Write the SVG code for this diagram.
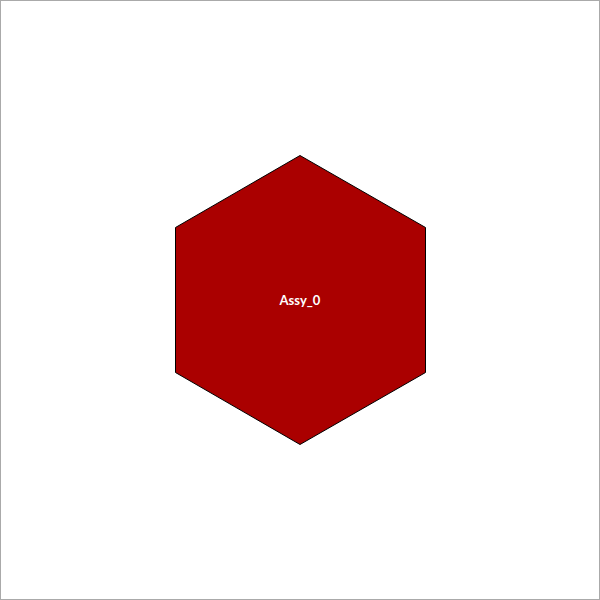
<svg xmlns="http://www.w3.org/2000/svg" width="600" height="600" viewBox="0 0 600 600">
<style>
.node{fill:#aa0000;stroke:#000;stroke-width:1}
.lbl{fill:#fff;font-family:Lato,"Liberation Sans",sans-serif;font-weight:bold;font-size:13px;text-anchor:middle}
</style>
<rect x="0.5" y="0.5" width="599" height="599" fill="#fff" stroke="#aaa" stroke-width="1"/>
<g id="connectors"></g>
<g id="Assy_0">
<polygon class="node" points="300,155.5 425.5,227.5 425.5,372.5 300,444.5 175.5,372.5 175.5,227.5"/>
<text class="lbl" x="300" y="304.5">Assy_0</text>
</g>
</svg>
